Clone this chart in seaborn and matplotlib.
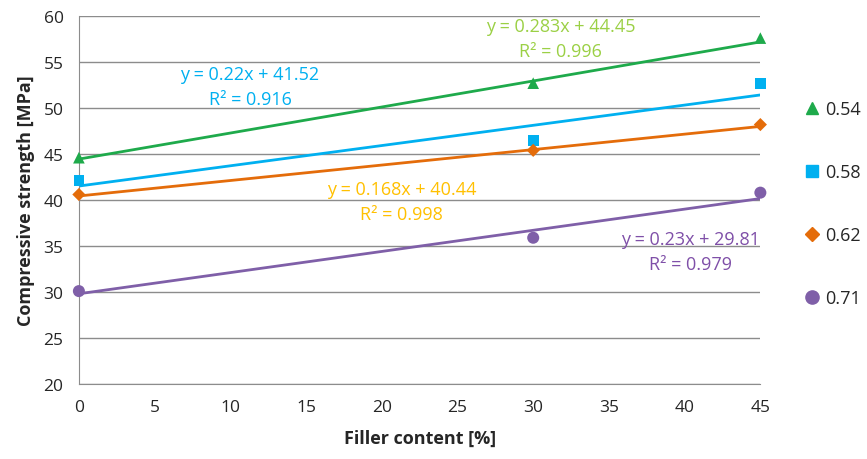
import pandas as pd
import numpy as np
import seaborn as sns
import matplotlib.pyplot as plt
from matplotlib.lines import Line2D

# filler content [%]
filler = [0, 30, 45]
# w/c ratios and measured strengths
ratios = ["0.54", "0.58", "0.62", "0.71"]
s054 = [44.6, 52.7, 57.6]
s058 = [42.1, 46.5, 52.7]
s062 = [40.6, 45.4, 48.2]
s071 = [30.1, 35.9, 40.8]
# excel trendline coefficients
slopes = [0.283, 0.22, 0.168, 0.23]
intercepts = [44.45, 41.52, 40.44, 29.81]
r2 = ["0.996", "0.916", "0.998", "0.979"]

colors = ["#1EAA4B", "#00B0F0", "#E46C0A", "#7F5FA8"]
txt_colors = ["#9BD045", "#00B0F0", "#FFC000", "#7F4FA8"]
markers = ["^", "s", "D", "o"]
msizes = [70, 60, 45, 75]
# label positions (x centre, y of first line)
lab_x = [31.8, 11.3, 21.3, 40.4]
lab_y = [58.9, 53.7, 41.2, 35.8]

df = pd.DataFrame({"filler": filler * 4,
                   "strength": s054 + s058 + s062 + s071,
                   "ratio": [r for r in ratios for _ in filler]})

sns.set_style("white")
plt.rcParams['font.family'] = ['Open Sans', 'DejaVu Sans']

fig = plt.figure(figsize=(8.67, 4.6), dpi=100)
ax = fig.add_axes([0.091, 0.163, 0.786, 0.800])

xs = np.array([0, 45])
for i, r in enumerate(ratios):
    sns.lineplot(x=xs, y=slopes[i] * xs + intercepts[i], color=colors[i], lw=2, ax=ax, zorder=2)
    sub = df[df["ratio"] == r]
    sns.scatterplot(data=sub, x="filler", y="strength", color=colors[i], marker=markers[i],
                    s=msizes[i], edgecolor="none", ax=ax, zorder=3, clip_on=False)
    eq = "y = %sx + %s" % (slopes[i], intercepts[i])
    ax.text(lab_x[i], lab_y[i], eq, color=txt_colors[i], fontsize=13, ha="center", va="center")
    ax.text(lab_x[i], lab_y[i] - 2.7, "R² = " + r2[i], color=txt_colors[i], fontsize=13,
            ha="center", va="center")

ax.set_xlim(0, 45)
ax.set_ylim(20, 60)
ax.set_xticks(range(0, 46, 5))
ax.set_yticks(range(20, 61, 5))
ax.yaxis.grid(True, color="#8C8C8C", lw=1)
ax.set_axisbelow(True)
for sp in ["top", "right"]:
    ax.spines[sp].set_visible(False)
for sp in ["left", "bottom"]:
    ax.spines[sp].set_color("#8C8C8C")
ax.tick_params(axis="both", direction="out", length=6, color="#8C8C8C", labelsize=12.5, pad=5)
ax.set_xlabel("Filler content [%]", fontsize=13, fontweight="bold", labelpad=10)
ax.set_ylabel("Compressive strength [MPa]", fontsize=13, fontweight="bold", labelpad=6)

handles = [Line2D([], [], ls="none", marker=markers[i], color=colors[i],
                  markersize=[9, 8, 7, 9.5][i]) for i in range(4)]
ax.legend(handles, ratios, loc="center left", bbox_to_anchor=(1.04, 0.49), frameon=False,
          fontsize=13, labelspacing=2.5, handletextpad=0.3, handlelength=0.9)

plt.savefig("out.png", dpi=100)
